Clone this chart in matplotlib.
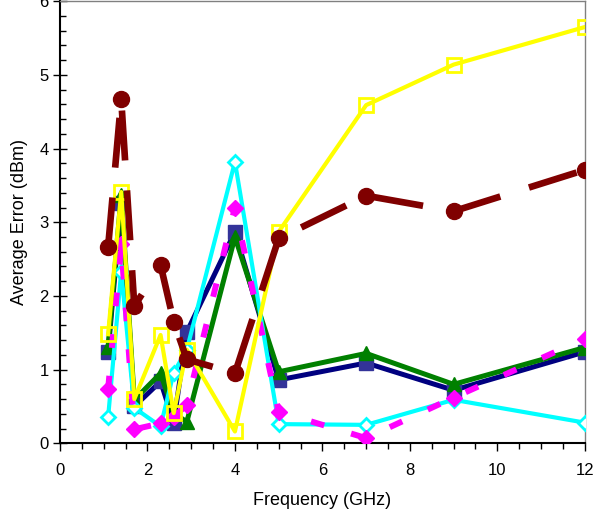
import matplotlib
matplotlib.use("Agg")
import matplotlib.pyplot as plt
from matplotlib.ticker import MultipleLocator

plt.rcParams['font.family'] = ['Liberation Sans', 'DejaVu Sans']

freq = [1.1, 1.4, 1.7, 2.3, 2.6, 2.9, 4, 5, 7, 9, 12]
maroon = [2.66, 4.67, 1.86, 2.42, 1.65, 1.14, 0.95, 2.78, 3.36, 3.15, 3.71]
navy = [1.24, 3.26, 0.50, 0.84, 0.28, 1.51, 2.87, 0.86, 1.09, 0.72, 1.24]
green = [1.31, 3.37, 0.59, 0.95, 0.41, 0.29, 2.80, 0.97, 1.22, 0.80, 1.30]
magenta = [0.73, 2.70, 0.19, 0.27, 0.36, 0.52, 3.20, 0.43, 0.07, 0.62, 1.42]
cyan = [0.35, 2.33, 0.48, 0.23, 0.96, 1.27, 3.82, 0.26, 0.25, 0.59, 0.28]
yellow = [1.48, 3.41, 0.60, 1.47, 0.41, 1.27, 0.16, 2.87, 4.59, 5.14, 5.65]

fig = plt.figure(figsize=(5.98, 5.17), dpi=100)
ax = fig.add_axes([0.1003, 0.1426, 0.8777, 0.855])

ax.plot(freq, navy, color='#000080', lw=3.6, marker='s', ms=10,
        mfc='#333399', mec='#333399', zorder=3)
ax.plot(freq, green, color='#008000', lw=3.6, marker='^', ms=10.5,
        mfc='#008000', mec='#008000', zorder=4)
ax.plot(freq, cyan, color='#00FFFF', lw=3.0, marker='D', ms=7.5,
        mfc='white', mec='#00FFFF', mew=2, zorder=5)
ax.plot(freq, magenta, color='#FF00FF', lw=4.3, ls=(0, (2.3, 4.7)), marker='D', ms=8,
        mfc='#FF00FF', mec='#FF00FF', zorder=5.5)
ax.plot(freq, yellow, color='#FFFF00', lw=3.0, marker='s', ms=9.5,
        mfc='none', mec='#FFFF00', mew=2, zorder=6)
ax.plot(freq, maroon, color='#800000', lw=4.8, ls=(0, (7.5, 4.5)), marker='o', ms=11.5,
        mfc='#800000', mec='#800000', zorder=7)

ax.set_xlim(0, 12)
ax.set_ylim(0, 6)
ax.xaxis.set_major_locator(MultipleLocator(2))
ax.xaxis.set_minor_locator(MultipleLocator(0.5))
ax.yaxis.set_major_locator(MultipleLocator(1))
ax.yaxis.set_minor_locator(MultipleLocator(0.2))

ax.tick_params(axis='x', which='major', direction='out', length=6, width=1, labelsize=12, pad=8)
ax.tick_params(axis='x', which='minor', direction='out', length=4, width=1)
ax.tick_params(axis='y', which='major', direction='inout', length=10, width=1, labelsize=12, pad=3)
ax.tick_params(axis='y', which='minor', direction='in', length=4, width=1)

for s in ['left', 'bottom']:
    ax.spines[s].set_color('black')
    ax.spines[s].set_linewidth(1.5)
for s in ['top', 'right']:
    ax.spines[s].set_color('#808080')
    ax.spines[s].set_linewidth(1)

ax.set_xlabel('Frequency (GHz)', fontsize=13, labelpad=10)
ax.set_ylabel('Average Error (dBm)', fontsize=13, labelpad=8)

fig.savefig('out.png', dpi=100)
